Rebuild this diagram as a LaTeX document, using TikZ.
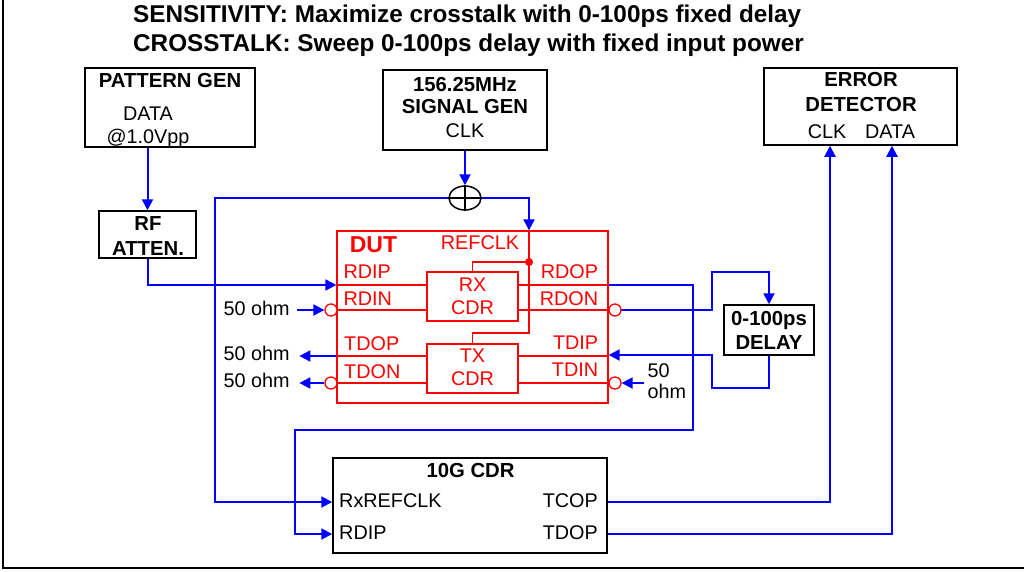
\documentclass[tikz,border=0pt]{standalone}
\usepackage{fontspec}
\setmainfont{Liberation Sans}
\usetikzlibrary{arrows.meta,shapes.geometric}
\definecolor{wireblue}{RGB}{0,0,255}
\definecolor{dutred}{RGB}{255,0,0}

\begin{document}
\begin{tikzpicture}[
        x=1pt,
        y=-1pt,
        every node/.style={font=\fontsize{19.8}{22}\selectfont, inner sep=0pt},
        boxlabel/.style={font=\fontsize{20.3}{22}\selectfont\bfseries},
        instbox/.style={draw, line width=1.5pt},
        dutbox/.style={draw=dutred, line width=1.3pt},
        dutlabel/.style={text=dutred},
        dutline/.style={draw=dutred, line width=1.3pt},
        wire/.style={draw=wireblue, line width=2pt},
        feed/.style={wire, -{Triangle[length=11pt,width=11pt]}},
        term/.style={circle, draw=dutred, fill=white, line width=1.3pt, minimum size=12pt}
    ]
        \useasboundingbox (0,0) rectangle (1024,571);

        % frame
        \draw[line width=2pt] (3,0) -- (3,568) -- (1024,568);

        % heading
        \node[anchor=base west, font=\fontsize{24.3}{26}\selectfont\bfseries]
            (headsens) at (133,22.7) {SENSITIVITY: Maximize crosstalk with 0-100ps fixed delay};
        \node[anchor=base west, font=\fontsize{24.3}{26}\selectfont\bfseries]
            (headxtalk) at (133,51.7) {CROSSTALK: Sweep 0-100ps delay with fixed input power};

        % pattern generator and attenuator
        \node[instbox, minimum width=170pt, minimum height=79pt] (patgen) at (170,107.5) {};
        \node[boxlabel, anchor=base] (patgenname) at (170,87.3) {PATTERN GEN};
        \node[anchor=base] (patgendata) at (148,120) {DATA};
        \node[anchor=base] (patgenlevel) at (148,143.3) {@1.0Vpp};

        \node[instbox, minimum width=97pt, minimum height=47pt] (atten) at (147.5,234.5) {};
        \node[boxlabel, anchor=base] (attenrf) at (148,230.7) {RF};
        \node[boxlabel, anchor=base] (attenname) at (148,255.7) {ATTEN.};

        % clock source
        \node[instbox, minimum width=164pt, minimum height=80pt] (siggen) at (465,110) {};
        \node[boxlabel, anchor=base] (siggenfreq) at (465,91.7) {156.25MHz};
        \node[boxlabel, anchor=base] (siggenname) at (465,113.3) {SIGNAL GEN};
        \node[anchor=base] (siggenclk) at (465,137) {CLK};

        \node[ellipse, draw, line width=1.5pt, minimum width=32pt, minimum height=24pt]
            (clksum) at (465,198) {};
        \draw[line width=1.5pt] (clksum.north) -- (clksum.south) (clksum.west) -- (clksum.east);

        % error detector
        \node[instbox, minimum width=193pt, minimum height=77pt] (errdet) at (860.5,106.5) {};
        \node[boxlabel, anchor=base] (errdeterr) at (861,86.7) {ERROR};
        \node[boxlabel, anchor=base] (errdetname) at (861,111.7) {DETECTOR};
        \node[anchor=base] (errdetclk) at (827,138) {CLK};
        \node[anchor=base] (errdetdata) at (890,138) {DATA};

        % delay line
        \node[instbox, minimum width=90pt, minimum height=50pt] (delay) at (769,330) {};
        \node[boxlabel, anchor=base] (delayval) at (769,325) {0-100ps};
        \node[boxlabel, anchor=base] (delayname) at (769,349.3) {DELAY};

        % reference CDR
        \node[instbox, minimum width=274pt, minimum height=95pt] (cdr) at (470,505.5) {};
        \node[boxlabel, anchor=base] (cdrname) at (470.5,477.3) {10G CDR};
        \node[anchor=base west] (cdrrefclk) at (339,507.3) {RxREFCLK};
        \node[anchor=base west] (cdrrdip) at (339,539) {RDIP};
        \node[anchor=base east] (cdrtcop) at (598,507.3) {TCOP};
        \node[anchor=base east] (cdrtdop) at (598,539) {TDOP};

        % DUT
        \node[dutbox, minimum width=271pt, minimum height=172pt] (dut) at (472.5,317) {};
        \node[dutbox, minimum width=91pt, minimum height=49pt] (rxcdr) at (472.5,296.5) {};
        \node[dutbox, minimum width=91pt, minimum height=49pt] (txcdr) at (472.5,368.5) {};

        \foreach \y in {285,310}
            \draw[dutline] (dut.west |- 0,\y) -- (rxcdr.west |- 0,\y)
                           (rxcdr.east |- 0,\y) -- (dut.east |- 0,\y);
        \foreach \y in {356,383}
            \draw[dutline] (dut.west |- 0,\y) -- (txcdr.west |- 0,\y)
                           (txcdr.east |- 0,\y) -- (dut.east |- 0,\y);

        \coordinate (refclk) at (dut.north -| 529,0);
        \coordinate (clkdot) at (529,262);
        \draw[dutline] (refclk) -- (529,333) -| (txcdr.north);
        \draw[dutline] (clkdot) -| (rxcdr.north);
        \fill[dutred] (clkdot) circle (4pt);

        \node[dutlabel, anchor=base, font=\fontsize{23}{26}\selectfont\bfseries]
            (dutname) at (373.5,252.7) {DUT};
        \node[dutlabel, anchor=base] (dutrefclk) at (480,249.3) {REFCLK};
        \node[dutlabel, anchor=base west] (dutrdip) at (343.3,278.3) {RDIP};
        \node[dutlabel, anchor=base west] (dutrdin) at (343.3,305.7) {RDIN};
        \node[dutlabel, anchor=base east] (dutrdop) at (598.3,278) {RDOP};
        \node[dutlabel, anchor=base east] (dutrdon) at (598.3,305.7) {RDON};
        \node[dutlabel, anchor=base west] (duttdop) at (344,350) {TDOP};
        \node[dutlabel, anchor=base west] (duttdon) at (344,378.3) {TDON};
        \node[dutlabel, anchor=base east] (duttdip) at (598.3,349.3) {TDIP};
        \node[dutlabel, anchor=base east] (duttdin) at (598.3,376) {TDIN};
        \node[dutlabel, anchor=base] (rxname) at (472.5,291.7) {RX};
        \node[dutlabel, anchor=base] (rxcdrname) at (472.5,314) {CDR};
        \node[dutlabel, anchor=base] (txname) at (472.5,362.7) {TX};
        \node[dutlabel, anchor=base] (txcdrname) at (472.5,385.7) {CDR};

        % terminations
        \node[anchor=base west] (ohmrdin) at (223.3,315) {50 ohm};
        \node[anchor=base west] (ohmtdop) at (223.3,360.7) {50 ohm};
        \node[anchor=base west] (ohmtdon) at (223.3,387.3) {50 ohm};
        \node[anchor=base west] (ohmtdinval) at (647.3,377.3) {50};
        \node[anchor=base west] (ohmtdinunit) at (647.3,398.3) {ohm};

        % wiring
        \draw[feed] (atten.north |- patgen.south) -- (atten.north);
        \draw[feed] (atten.south) |- (dut.west |- 0,285);
        \draw[feed] (siggen.south) -- (clksum.north);
        \draw[feed] (clksum.east) -| (refclk);
        \draw[feed] (clksum.west) -| (215,502) -- (cdr.west |- 0,502);
        \draw[feed] (dut.east |- 0,285) -- (693,285) -- (693,430) -- (295,430) |- (cdr.west |- 0,534);
        \draw[feed] (615,310) -- (712,310) |- (769,272) -- (delay.north);
        \draw[feed] (delay.south) -- (769,388) -| (712,355) -- (dut.east |- 0,355);
        \draw[feed] (cdr.east |- 0,502) -| (errdet.south -| 830,0);
        \draw[feed] (cdr.east |- 0,534) -| (errdet.south -| 892,0);
        \draw[feed] (dut.west |- 0,356) -- +(-37,0);

        \node[term] (rdinterm) at (331,310) {};
        \node[term] (tdonterm) at (331,383) {};
        \node[term] (rdonterm) at (615,310) {};
        \node[term] (tdinterm) at (615,383) {};

        \draw[feed] ([xshift=-27pt]rdinterm.west) -- (rdinterm.west);
        \draw[feed] (tdonterm.west) -- +(-25,0);
        \draw[feed] ([xshift=22pt]tdinterm.east) -- (tdinterm.east);

    \end{tikzpicture}
\end{document}
